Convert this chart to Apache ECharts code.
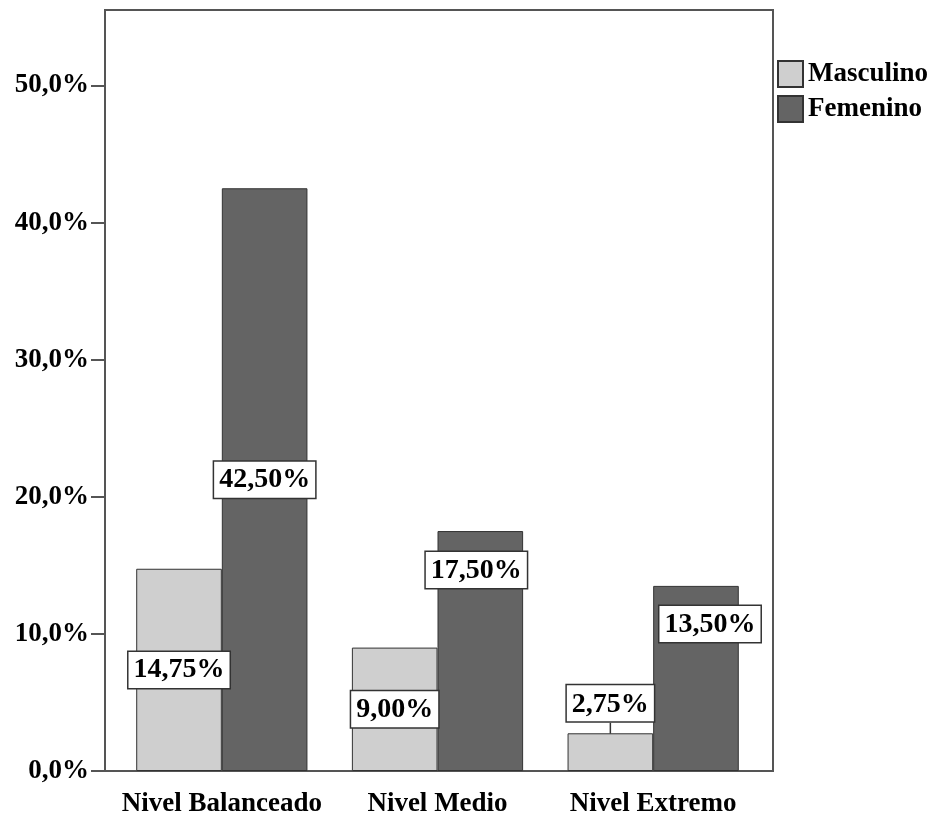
<!DOCTYPE html>
<html>
<head>
<meta charset="utf-8">
<script src="https://cdn.jsdelivr.net/npm/echarts@6/dist/echarts.min.js"></script>
<style>
  html, body { margin: 0; padding: 0; background: #fff; }
  #chart { width: 933px; height: 818px; }
</style>
</head>
<body>
<div id="chart"></div>
<script>
// Niveles por sexo (porcentaje del total)
const categories = ['Nivel Balanceado', 'Nivel Medio', 'Nivel Extremo'];
const seriesNames = ['Masculino', 'Femenino'];
const masculino = [14.75, 9.00, 2.75];
const femenino = [42.50, 17.50, 13.50];
const yTicks = [0, 10, 20, 30, 40, 50];

const FONT = 'Liberation Serif, "Times New Roman", serif';
const fmtPct = (v, d) => v.toFixed(d).replace('.', ',') + '%';
const AXIS_COLOR = '#555';

const labelBox = {
  show: true,
  color: '#000',
  fontFamily: FONT,
  fontWeight: 'bold',
  fontSize: 28,
  backgroundColor: '#fff',
  borderColor: '#333',
  borderWidth: 1.5,
  padding: [5, 5, 3, 5],
  formatter: p => fmtPct(p.value, 2)
};

// per-bar label placement, keyed by category index
const mascLabelPos = [
  { position: 'inside' },
  { position: 'inside', offset: [0, 3] },
  { position: 'top', distance: 12 }
];
const femLabelPos = [
  { position: 'inside' },
  { position: 'insideTop', distance: 21, offset: [-4, 0] },
  { position: 'insideTop', distance: 20, offset: [14, 0] }
];

const chart = echarts.init(document.getElementById('chart'));
chart.setOption({
  backgroundColor: '#fff',
  animation: false,
  grid: [
    // data area, inset from the frame on both sides
    { left: 114, right: 172, top: 10, bottom: 47, show: false },
    // outer frame
    { left: 105, right: 160, top: 10, bottom: 47, show: true,
      borderColor: AXIS_COLOR, borderWidth: 2, backgroundColor: 'transparent' }
  ],
  legend: {
    data: seriesNames,
    orient: 'vertical',
    left: 772, top: 55,
    itemWidth: 25, itemHeight: 26, itemGap: 7,
    icon: 'rect',
    textStyle: { fontFamily: FONT, fontWeight: 'bold', fontSize: 27, color: '#000' }
  },
  xAxis: [
    {
      gridIndex: 0,
      type: 'category',
      data: categories,
      axisLine: { lineStyle: { color: AXIS_COLOR, width: 2 } },
      axisTick: { alignWithLabel: true, length: 12, lineStyle: { color: AXIS_COLOR, width: 2 } },
      axisLabel: { interval: 0, color: '#000', fontFamily: FONT, fontWeight: 'bold', fontSize: 27, margin: 20 }
    },
    { gridIndex: 1, type: 'value', show: false }
  ],
  yAxis: [
    {
      gridIndex: 0,
      type: 'value',
      min: 0, max: 55.5,
      offset: 9,
      splitLine: { show: false },
      axisLine: { show: true, lineStyle: { color: AXIS_COLOR, width: 2 } },
      axisTick: { show: true, length: 14, customValues: yTicks, lineStyle: { color: AXIS_COLOR, width: 2 } },
      axisLabel: {
        customValues: yTicks,
        color: '#000', fontFamily: FONT, fontWeight: 'bold', fontSize: 27, margin: 16,
        backgroundColor: 'rgba(255,255,255,0)',
        padding: [9, 0, 0, 0],
        formatter: v => fmtPct(v, 1)
      }
    },
    { gridIndex: 1, type: 'value', show: false }
  ],
  series: [
    {
      name: seriesNames[0],
      type: 'bar',
      barGap: '0%',
      barCategoryGap: '20.6%',
      itemStyle: { color: '#cfcfcf', borderColor: '#333', borderWidth: 1 },
      label: labelBox,
      labelLine: { show: true, lineStyle: { color: '#333', width: 1.5 } },
      labelLayout: function (p) {
        if (p.dataIndex !== 2) return {};
        const cx = p.rect.x + p.rect.width / 2;
        return {
          labelLinePoints: [[cx, p.rect.y], [cx, p.labelRect.y + p.labelRect.height]]
        };
      },
      data: masculino.map((v, i) => ({ value: v, label: mascLabelPos[i] }))
    },
    {
      name: seriesNames[1],
      type: 'bar',
      itemStyle: { color: '#646464', borderColor: '#333', borderWidth: 1 },
      label: labelBox,
      data: femenino.map((v, i) => ({ value: v, label: femLabelPos[i] }))
    }
  ]
});
</script>
</body>
</html>
